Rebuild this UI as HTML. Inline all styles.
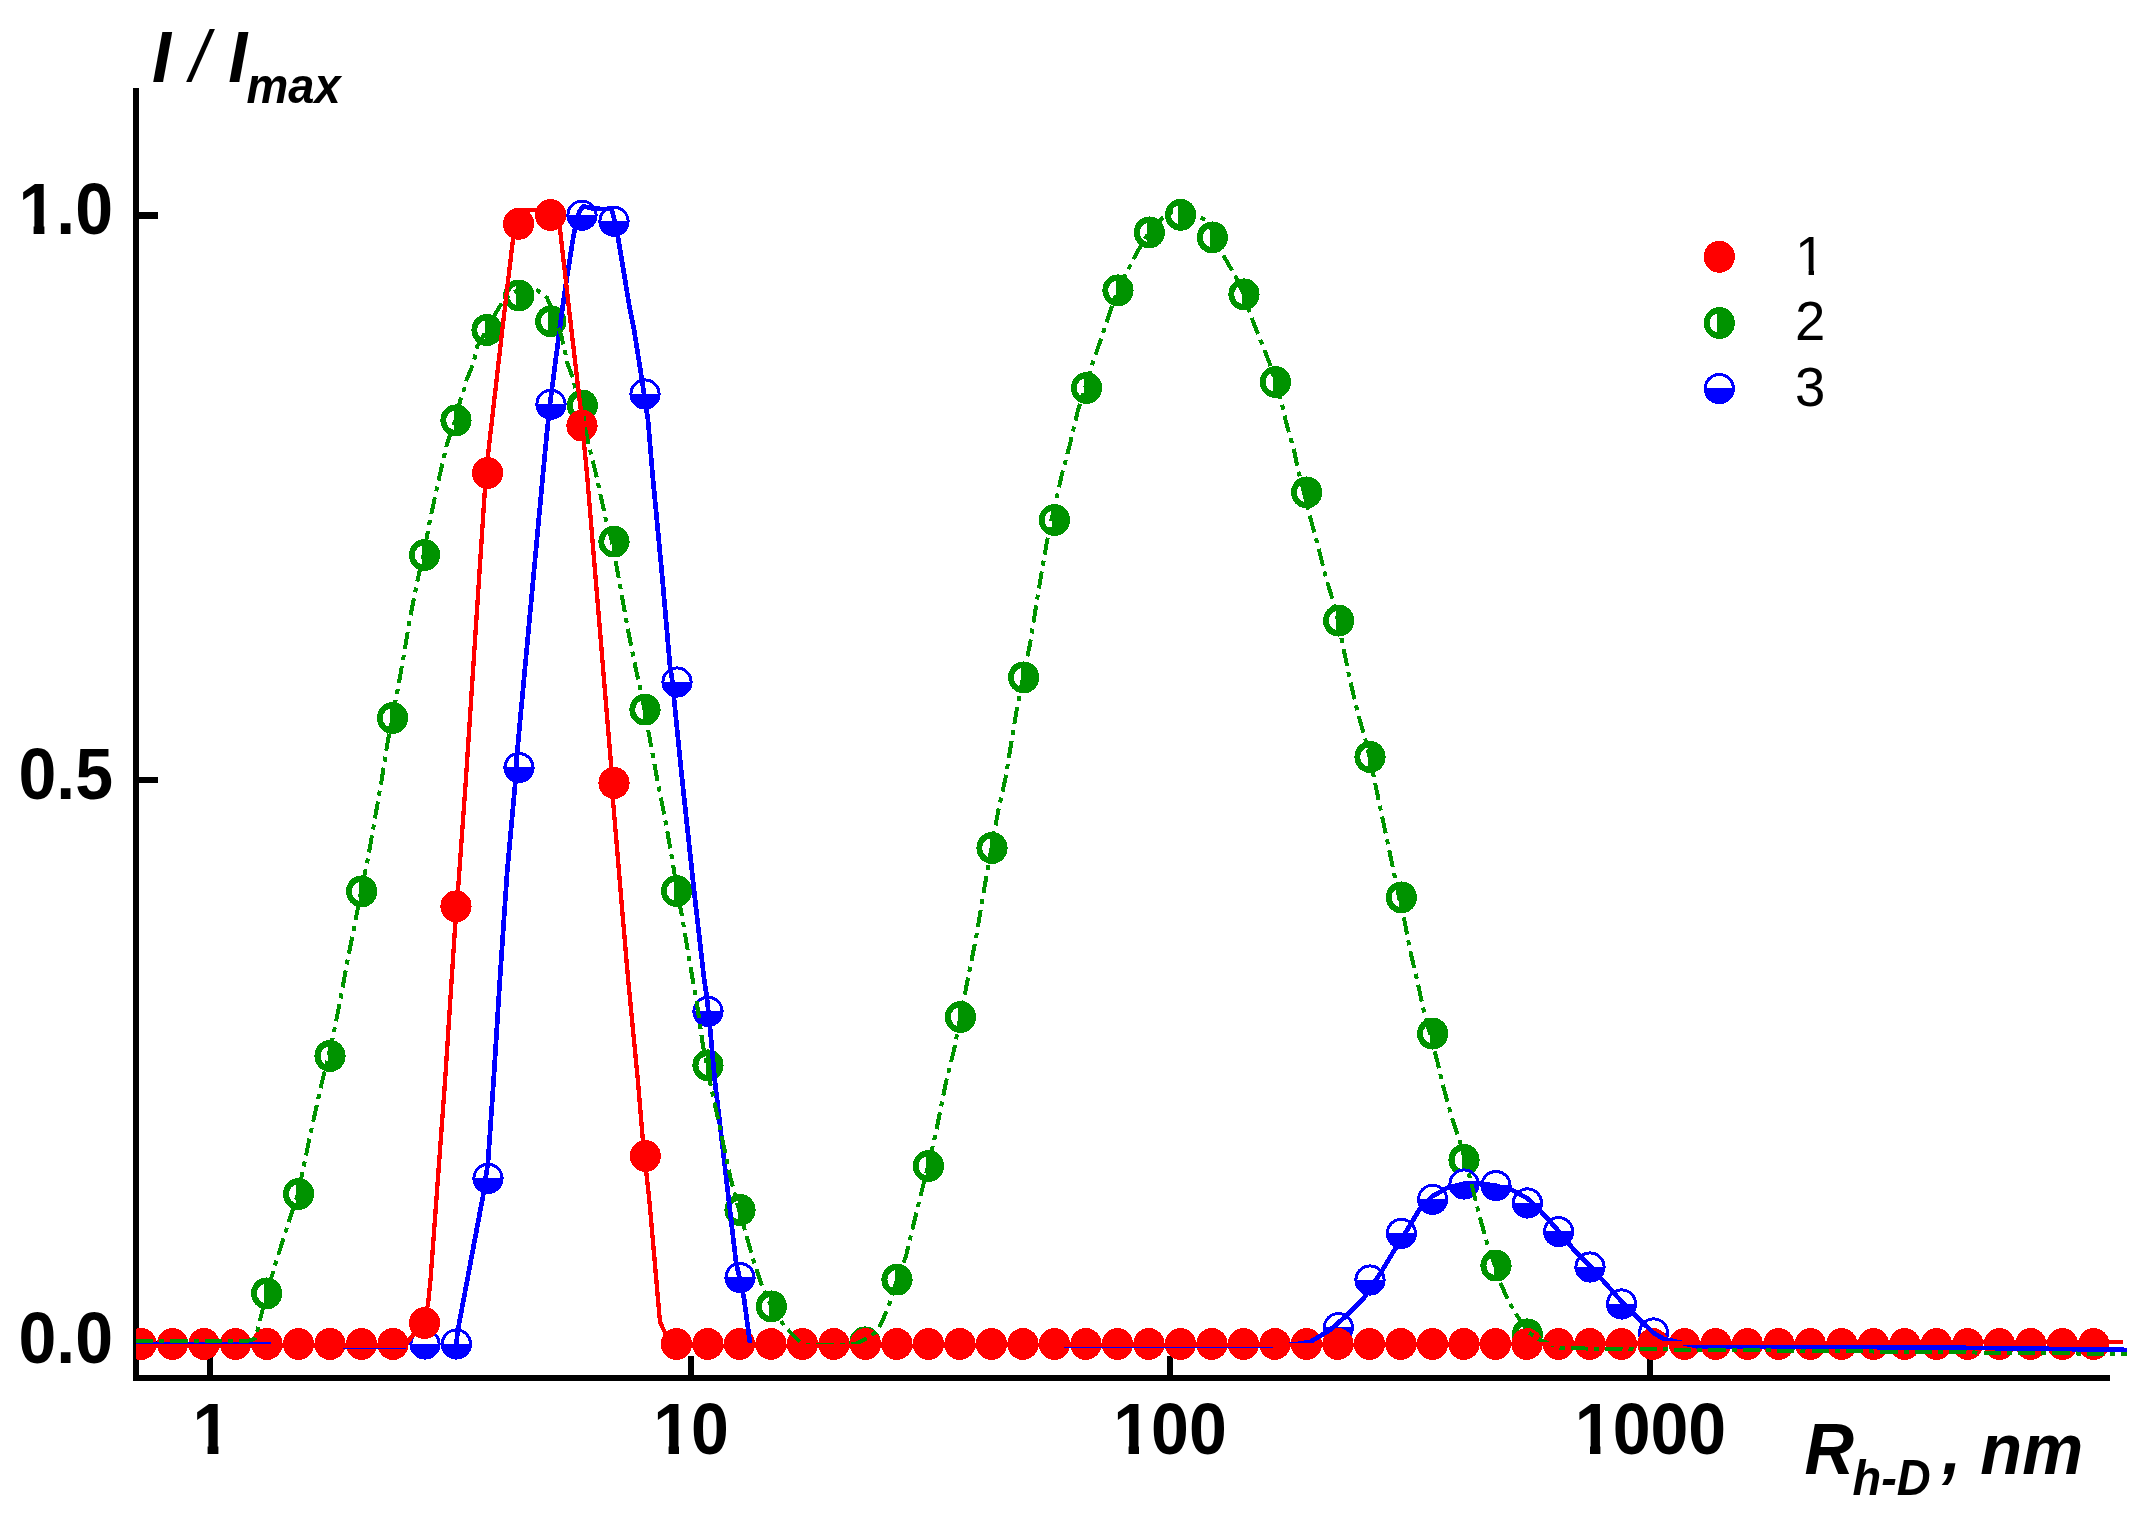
<!DOCTYPE html>
<html lang="en"><head><meta charset="utf-8"><title>DLS size distribution</title>
<style>
html,body{margin:0;padding:0;background:#fff;}
body{width:2150px;height:1522px;overflow:hidden;}
svg{display:block;}
text{font-family:"Liberation Sans",Arial,Helvetica,sans-serif;fill:#000;}
.b{font-weight:bold;font-size:68px;}
.bi{font-weight:bold;font-style:italic;font-size:68.5px;}
.sub{font-weight:bold;font-style:italic;font-size:47px;}
.lg{font-size:54.5px;}
</style></head><body>
<svg width="2150" height="1522" viewBox="0 0 2150 1522">
<rect width="2150" height="1522" fill="#fff"/>
<defs><clipPath id="frame"><rect x="136" y="0" width="2014" height="1400"/></clipPath></defs>

<g shape-rendering="crispEdges" fill="#000">
<rect x="133" y="88" width="6" height="1293"/>
<rect x="133" y="1375" width="1977" height="6"/>
<rect x="139" y="212.0" width="19" height="6.8"/>
<rect x="139" y="776.5" width="19" height="6.8"/>
<rect x="139" y="1341.0" width="19" height="6.8"/>
<rect x="207.0" y="1356" width="6" height="19"/>
<rect x="687.5" y="1356" width="6" height="19"/>
<rect x="1166.6" y="1356" width="6" height="19"/>
<rect x="1646.6" y="1356" width="6" height="19"/>
</g>
<g shape-rendering="crispEdges" clip-path="url(#frame)">
<g>
<ellipse cx="141.0" cy="1344.0" rx="15.6" ry="15.95" fill="#009300"/><path d="M138.5,1334.7 A9.7,9.7 0 0 0 138.5,1353.3 Z" fill="#fff"/>
<ellipse cx="172.5" cy="1344.0" rx="15.6" ry="15.95" fill="#009300"/><path d="M170.0,1334.7 A9.7,9.7 0 0 0 170.0,1353.3 Z" fill="#fff"/>
<ellipse cx="204.0" cy="1344.0" rx="15.6" ry="15.95" fill="#009300"/><path d="M201.5,1334.7 A9.7,9.7 0 0 0 201.5,1353.3 Z" fill="#fff"/>
<ellipse cx="235.5" cy="1344.0" rx="15.6" ry="15.95" fill="#009300"/><path d="M233.0,1334.7 A9.7,9.7 0 0 0 233.0,1353.3 Z" fill="#fff"/>
<ellipse cx="266.6" cy="1293.4" rx="15.6" ry="15.95" fill="#009300"/><path d="M264.1,1284.1 A9.7,9.7 0 0 0 264.1,1302.8 Z" fill="#fff"/>
<ellipse cx="298.6" cy="1194.0" rx="15.6" ry="15.95" fill="#009300"/><path d="M296.1,1184.7 A9.7,9.7 0 0 0 296.1,1203.3 Z" fill="#fff"/>
<ellipse cx="330.0" cy="1056.0" rx="15.6" ry="15.95" fill="#009300"/><path d="M327.5,1046.7 A9.7,9.7 0 0 0 327.5,1065.3 Z" fill="#fff"/>
<ellipse cx="361.6" cy="891.4" rx="15.6" ry="15.95" fill="#009300"/><path d="M359.1,882.0 A9.7,9.7 0 0 0 359.1,900.8 Z" fill="#fff"/>
<ellipse cx="392.6" cy="718.0" rx="15.6" ry="15.95" fill="#009300"/><path d="M390.1,708.6 A9.7,9.7 0 0 0 390.1,727.4 Z" fill="#fff"/>
<ellipse cx="424.6" cy="555.0" rx="15.6" ry="15.95" fill="#009300"/><path d="M422.1,545.6 A9.7,9.7 0 0 0 422.1,564.4 Z" fill="#fff"/>
<ellipse cx="456.0" cy="420.4" rx="15.6" ry="15.95" fill="#009300"/><path d="M453.5,411.0 A9.7,9.7 0 0 0 453.5,429.8 Z" fill="#fff"/>
<ellipse cx="487.0" cy="330.0" rx="15.6" ry="15.95" fill="#009300"/><path d="M484.5,320.6 A9.7,9.7 0 0 0 484.5,339.4 Z" fill="#fff"/>
<ellipse cx="518.8" cy="295.5" rx="15.6" ry="15.95" fill="#009300"/><path d="M516.3,286.1 A9.7,9.7 0 0 0 516.3,304.9 Z" fill="#fff"/>
<ellipse cx="550.8" cy="321.3" rx="15.6" ry="15.95" fill="#009300"/><path d="M548.3,311.9 A9.7,9.7 0 0 0 548.3,330.7 Z" fill="#fff"/>
<ellipse cx="582.4" cy="405.5" rx="15.6" ry="15.95" fill="#009300"/><path d="M579.9,396.1 A9.7,9.7 0 0 0 579.9,414.9 Z" fill="#fff"/>
<ellipse cx="614.0" cy="541.6" rx="15.6" ry="15.95" fill="#009300"/><path d="M611.5,532.2 A9.7,9.7 0 0 0 611.5,551.0 Z" fill="#fff"/>
<ellipse cx="645.0" cy="709.6" rx="15.6" ry="15.95" fill="#009300"/><path d="M642.5,700.2 A9.7,9.7 0 0 0 642.5,719.0 Z" fill="#fff"/>
<ellipse cx="676.6" cy="891.0" rx="15.6" ry="15.95" fill="#009300"/><path d="M674.1,881.6 A9.7,9.7 0 0 0 674.1,900.4 Z" fill="#fff"/>
<ellipse cx="708.0" cy="1065.4" rx="15.6" ry="15.95" fill="#009300"/><path d="M705.5,1056.1 A9.7,9.7 0 0 0 705.5,1074.8 Z" fill="#fff"/>
<ellipse cx="740.0" cy="1210.0" rx="15.6" ry="15.95" fill="#009300"/><path d="M737.5,1200.7 A9.7,9.7 0 0 0 737.5,1219.3 Z" fill="#fff"/>
<ellipse cx="771.4" cy="1306.4" rx="15.6" ry="15.95" fill="#009300"/><path d="M768.9,1297.1 A9.7,9.7 0 0 0 768.9,1315.8 Z" fill="#fff"/>
<ellipse cx="802.4" cy="1344.0" rx="15.6" ry="15.95" fill="#009300"/><path d="M799.9,1334.7 A9.7,9.7 0 0 0 799.9,1353.3 Z" fill="#fff"/>
<ellipse cx="833.9" cy="1344.0" rx="15.6" ry="15.95" fill="#009300"/><path d="M831.4,1334.7 A9.7,9.7 0 0 0 831.4,1353.3 Z" fill="#fff"/>
<ellipse cx="865.0" cy="1342.4" rx="15.6" ry="15.95" fill="#009300"/><path d="M862.5,1333.1 A9.7,9.7 0 0 0 862.5,1351.8 Z" fill="#fff"/>
<ellipse cx="897.0" cy="1279.6" rx="15.6" ry="15.95" fill="#009300"/><path d="M894.5,1270.2 A9.7,9.7 0 0 0 894.5,1288.9 Z" fill="#fff"/>
<ellipse cx="928.4" cy="1166.0" rx="15.6" ry="15.95" fill="#009300"/><path d="M925.9,1156.7 A9.7,9.7 0 0 0 925.9,1175.3 Z" fill="#fff"/>
<ellipse cx="960.4" cy="1017.0" rx="15.6" ry="15.95" fill="#009300"/><path d="M957.9,1007.6 A9.7,9.7 0 0 0 957.9,1026.3 Z" fill="#fff"/>
<ellipse cx="992.0" cy="848.0" rx="15.6" ry="15.95" fill="#009300"/><path d="M989.5,838.6 A9.7,9.7 0 0 0 989.5,857.4 Z" fill="#fff"/>
<ellipse cx="1023.6" cy="677.4" rx="15.6" ry="15.95" fill="#009300"/><path d="M1021.1,668.0 A9.7,9.7 0 0 0 1021.1,686.8 Z" fill="#fff"/>
<ellipse cx="1054.4" cy="520.0" rx="15.6" ry="15.95" fill="#009300"/><path d="M1051.9,510.6 A9.7,9.7 0 0 0 1051.9,529.4 Z" fill="#fff"/>
<ellipse cx="1086.6" cy="388.0" rx="15.6" ry="15.95" fill="#009300"/><path d="M1084.1,378.6 A9.7,9.7 0 0 0 1084.1,397.4 Z" fill="#fff"/>
<ellipse cx="1118.0" cy="290.4" rx="15.6" ry="15.95" fill="#009300"/><path d="M1115.5,281.0 A9.7,9.7 0 0 0 1115.5,299.8 Z" fill="#fff"/>
<ellipse cx="1149.4" cy="232.4" rx="15.6" ry="15.95" fill="#009300"/><path d="M1146.9,223.1 A9.7,9.7 0 0 0 1146.9,241.8 Z" fill="#fff"/>
<ellipse cx="1180.6" cy="214.8" rx="15.6" ry="15.95" fill="#009300"/><path d="M1178.1,205.5 A9.7,9.7 0 0 0 1178.1,224.2 Z" fill="#fff"/>
<ellipse cx="1212.4" cy="237.4" rx="15.6" ry="15.95" fill="#009300"/><path d="M1209.9,228.1 A9.7,9.7 0 0 0 1209.9,246.8 Z" fill="#fff"/>
<ellipse cx="1244.0" cy="294.4" rx="15.6" ry="15.95" fill="#009300"/><path d="M1241.5,285.0 A9.7,9.7 0 0 0 1241.5,303.8 Z" fill="#fff"/>
<ellipse cx="1275.4" cy="382.0" rx="15.6" ry="15.95" fill="#009300"/><path d="M1272.9,372.6 A9.7,9.7 0 0 0 1272.9,391.4 Z" fill="#fff"/>
<ellipse cx="1306.6" cy="492.4" rx="15.6" ry="15.95" fill="#009300"/><path d="M1304.1,483.0 A9.7,9.7 0 0 0 1304.1,501.8 Z" fill="#fff"/>
<ellipse cx="1338.6" cy="620.6" rx="15.6" ry="15.95" fill="#009300"/><path d="M1336.1,611.2 A9.7,9.7 0 0 0 1336.1,630.0 Z" fill="#fff"/>
<ellipse cx="1370.0" cy="757.0" rx="15.6" ry="15.95" fill="#009300"/><path d="M1367.5,747.6 A9.7,9.7 0 0 0 1367.5,766.4 Z" fill="#fff"/>
<ellipse cx="1401.4" cy="897.4" rx="15.6" ry="15.95" fill="#009300"/><path d="M1398.9,888.0 A9.7,9.7 0 0 0 1398.9,906.8 Z" fill="#fff"/>
<ellipse cx="1432.6" cy="1033.6" rx="15.6" ry="15.95" fill="#009300"/><path d="M1430.1,1024.2 A9.7,9.7 0 0 0 1430.1,1042.9 Z" fill="#fff"/>
<ellipse cx="1464.0" cy="1160.0" rx="15.6" ry="15.95" fill="#009300"/><path d="M1461.5,1150.7 A9.7,9.7 0 0 0 1461.5,1169.3 Z" fill="#fff"/>
<ellipse cx="1496.0" cy="1265.6" rx="15.6" ry="15.95" fill="#009300"/><path d="M1493.5,1256.2 A9.7,9.7 0 0 0 1493.5,1274.9 Z" fill="#fff"/>
<ellipse cx="1527.4" cy="1334.4" rx="15.6" ry="15.95" fill="#009300"/><path d="M1524.9,1325.1 A9.7,9.7 0 0 0 1524.9,1343.8 Z" fill="#fff"/>
<ellipse cx="1558.4" cy="1344.0" rx="15.6" ry="15.95" fill="#009300"/><path d="M1555.9,1334.7 A9.7,9.7 0 0 0 1555.9,1353.3 Z" fill="#fff"/>
<ellipse cx="1589.9" cy="1344.0" rx="15.6" ry="15.95" fill="#009300"/><path d="M1587.4,1334.7 A9.7,9.7 0 0 0 1587.4,1353.3 Z" fill="#fff"/>
<ellipse cx="1621.4" cy="1344.0" rx="15.6" ry="15.95" fill="#009300"/><path d="M1618.9,1334.7 A9.7,9.7 0 0 0 1618.9,1353.3 Z" fill="#fff"/>
<ellipse cx="1652.9" cy="1344.0" rx="15.6" ry="15.95" fill="#009300"/><path d="M1650.4,1334.7 A9.7,9.7 0 0 0 1650.4,1353.3 Z" fill="#fff"/>
<ellipse cx="1684.4" cy="1344.0" rx="15.6" ry="15.95" fill="#009300"/><path d="M1681.9,1334.7 A9.7,9.7 0 0 0 1681.9,1353.3 Z" fill="#fff"/>
<ellipse cx="1715.8" cy="1344.0" rx="15.6" ry="15.95" fill="#009300"/><path d="M1713.3,1334.7 A9.7,9.7 0 0 0 1713.3,1353.3 Z" fill="#fff"/>
<ellipse cx="1747.3" cy="1344.0" rx="15.6" ry="15.95" fill="#009300"/><path d="M1744.8,1334.7 A9.7,9.7 0 0 0 1744.8,1353.3 Z" fill="#fff"/>
<ellipse cx="1778.8" cy="1344.0" rx="15.6" ry="15.95" fill="#009300"/><path d="M1776.3,1334.7 A9.7,9.7 0 0 0 1776.3,1353.3 Z" fill="#fff"/>
<ellipse cx="1810.3" cy="1344.0" rx="15.6" ry="15.95" fill="#009300"/><path d="M1807.8,1334.7 A9.7,9.7 0 0 0 1807.8,1353.3 Z" fill="#fff"/>
<ellipse cx="1841.8" cy="1344.0" rx="15.6" ry="15.95" fill="#009300"/><path d="M1839.3,1334.7 A9.7,9.7 0 0 0 1839.3,1353.3 Z" fill="#fff"/>
<ellipse cx="1873.3" cy="1344.0" rx="15.6" ry="15.95" fill="#009300"/><path d="M1870.8,1334.7 A9.7,9.7 0 0 0 1870.8,1353.3 Z" fill="#fff"/>
<ellipse cx="1904.8" cy="1344.0" rx="15.6" ry="15.95" fill="#009300"/><path d="M1902.3,1334.7 A9.7,9.7 0 0 0 1902.3,1353.3 Z" fill="#fff"/>
<ellipse cx="1936.3" cy="1344.0" rx="15.6" ry="15.95" fill="#009300"/><path d="M1933.8,1334.7 A9.7,9.7 0 0 0 1933.8,1353.3 Z" fill="#fff"/>
<ellipse cx="1967.8" cy="1344.0" rx="15.6" ry="15.95" fill="#009300"/><path d="M1965.3,1334.7 A9.7,9.7 0 0 0 1965.3,1353.3 Z" fill="#fff"/>
<ellipse cx="1999.3" cy="1344.0" rx="15.6" ry="15.95" fill="#009300"/><path d="M1996.8,1334.7 A9.7,9.7 0 0 0 1996.8,1353.3 Z" fill="#fff"/>
<ellipse cx="2030.8" cy="1344.0" rx="15.6" ry="15.95" fill="#009300"/><path d="M2028.3,1334.7 A9.7,9.7 0 0 0 2028.3,1353.3 Z" fill="#fff"/>
<ellipse cx="2062.3" cy="1344.0" rx="15.6" ry="15.95" fill="#009300"/><path d="M2059.8,1334.7 A9.7,9.7 0 0 0 2059.8,1353.3 Z" fill="#fff"/>
<ellipse cx="2093.8" cy="1344.0" rx="15.6" ry="15.95" fill="#009300"/><path d="M2091.3,1334.7 A9.7,9.7 0 0 0 2091.3,1353.3 Z" fill="#fff"/>
</g><g>
<circle cx="141.0" cy="1344.0" r="14.1" fill="#fff" stroke="#0000ff" stroke-width="3"/><path d="M126.4,1343.6 A14.6,14.6 0 0 0 155.6,1343.6 Z" fill="#0000ff"/>
<circle cx="172.5" cy="1344.0" r="14.1" fill="#fff" stroke="#0000ff" stroke-width="3"/><path d="M157.9,1343.6 A14.6,14.6 0 0 0 187.1,1343.6 Z" fill="#0000ff"/>
<circle cx="204.0" cy="1344.0" r="14.1" fill="#fff" stroke="#0000ff" stroke-width="3"/><path d="M189.4,1343.6 A14.6,14.6 0 0 0 218.6,1343.6 Z" fill="#0000ff"/>
<circle cx="235.5" cy="1344.0" r="14.1" fill="#fff" stroke="#0000ff" stroke-width="3"/><path d="M220.9,1343.6 A14.6,14.6 0 0 0 250.1,1343.6 Z" fill="#0000ff"/>
<circle cx="267.0" cy="1344.0" r="14.1" fill="#fff" stroke="#0000ff" stroke-width="3"/><path d="M252.4,1343.6 A14.6,14.6 0 0 0 281.6,1343.6 Z" fill="#0000ff"/>
<circle cx="298.5" cy="1344.0" r="14.1" fill="#fff" stroke="#0000ff" stroke-width="3"/><path d="M283.9,1343.6 A14.6,14.6 0 0 0 313.1,1343.6 Z" fill="#0000ff"/>
<circle cx="330.0" cy="1344.0" r="14.1" fill="#fff" stroke="#0000ff" stroke-width="3"/><path d="M315.4,1343.6 A14.6,14.6 0 0 0 344.6,1343.6 Z" fill="#0000ff"/>
<circle cx="361.5" cy="1344.0" r="14.1" fill="#fff" stroke="#0000ff" stroke-width="3"/><path d="M346.9,1343.6 A14.6,14.6 0 0 0 376.1,1343.6 Z" fill="#0000ff"/>
<circle cx="393.0" cy="1344.0" r="14.1" fill="#fff" stroke="#0000ff" stroke-width="3"/><path d="M378.4,1343.6 A14.6,14.6 0 0 0 407.6,1343.6 Z" fill="#0000ff"/>
<circle cx="425.0" cy="1344.0" r="14.1" fill="#fff" stroke="#0000ff" stroke-width="3"/><path d="M410.4,1343.6 A14.6,14.6 0 0 0 439.6,1343.6 Z" fill="#0000ff"/>
<circle cx="456.4" cy="1344.0" r="14.1" fill="#fff" stroke="#0000ff" stroke-width="3"/><path d="M441.8,1343.6 A14.6,14.6 0 0 0 471.0,1343.6 Z" fill="#0000ff"/>
<circle cx="488.0" cy="1178.4" r="14.1" fill="#fff" stroke="#0000ff" stroke-width="3"/><path d="M473.4,1178.0 A14.6,14.6 0 0 0 502.6,1178.0 Z" fill="#0000ff"/>
<circle cx="519.0" cy="767.6" r="14.1" fill="#fff" stroke="#0000ff" stroke-width="3"/><path d="M504.4,767.2 A14.6,14.6 0 0 0 533.6,767.2 Z" fill="#0000ff"/>
<circle cx="551.0" cy="404.3" r="14.1" fill="#fff" stroke="#0000ff" stroke-width="3"/><path d="M536.4,403.9 A14.6,14.6 0 0 0 565.6,403.9 Z" fill="#0000ff"/>
<circle cx="582.0" cy="215.2" r="14.1" fill="#fff" stroke="#0000ff" stroke-width="3"/><path d="M567.4,214.8 A14.6,14.6 0 0 0 596.6,214.8 Z" fill="#0000ff"/>
<circle cx="614.0" cy="221.3" r="14.1" fill="#fff" stroke="#0000ff" stroke-width="3"/><path d="M599.4,220.9 A14.6,14.6 0 0 0 628.6,220.9 Z" fill="#0000ff"/>
<circle cx="645.0" cy="394.0" r="14.1" fill="#fff" stroke="#0000ff" stroke-width="3"/><path d="M630.4,393.6 A14.6,14.6 0 0 0 659.6,393.6 Z" fill="#0000ff"/>
<circle cx="677.0" cy="682.0" r="14.1" fill="#fff" stroke="#0000ff" stroke-width="3"/><path d="M662.4,681.6 A14.6,14.6 0 0 0 691.6,681.6 Z" fill="#0000ff"/>
<circle cx="708.0" cy="1011.4" r="14.1" fill="#fff" stroke="#0000ff" stroke-width="3"/><path d="M693.4,1011.0 A14.6,14.6 0 0 0 722.6,1011.0 Z" fill="#0000ff"/>
<circle cx="740.0" cy="1277.6" r="14.1" fill="#fff" stroke="#0000ff" stroke-width="3"/><path d="M725.4,1277.2 A14.6,14.6 0 0 0 754.6,1277.2 Z" fill="#0000ff"/>
<circle cx="770.9" cy="1344.0" r="14.1" fill="#fff" stroke="#0000ff" stroke-width="3"/><path d="M756.3,1343.6 A14.6,14.6 0 0 0 785.5,1343.6 Z" fill="#0000ff"/>
<circle cx="802.4" cy="1344.0" r="14.1" fill="#fff" stroke="#0000ff" stroke-width="3"/><path d="M787.8,1343.6 A14.6,14.6 0 0 0 817.0,1343.6 Z" fill="#0000ff"/>
<circle cx="833.9" cy="1344.0" r="14.1" fill="#fff" stroke="#0000ff" stroke-width="3"/><path d="M819.3,1343.6 A14.6,14.6 0 0 0 848.5,1343.6 Z" fill="#0000ff"/>
<circle cx="865.4" cy="1344.0" r="14.1" fill="#fff" stroke="#0000ff" stroke-width="3"/><path d="M850.8,1343.6 A14.6,14.6 0 0 0 880.0,1343.6 Z" fill="#0000ff"/>
<circle cx="896.9" cy="1344.0" r="14.1" fill="#fff" stroke="#0000ff" stroke-width="3"/><path d="M882.3,1343.6 A14.6,14.6 0 0 0 911.5,1343.6 Z" fill="#0000ff"/>
<circle cx="928.4" cy="1344.0" r="14.1" fill="#fff" stroke="#0000ff" stroke-width="3"/><path d="M913.8,1343.6 A14.6,14.6 0 0 0 943.0,1343.6 Z" fill="#0000ff"/>
<circle cx="959.9" cy="1344.0" r="14.1" fill="#fff" stroke="#0000ff" stroke-width="3"/><path d="M945.3,1343.6 A14.6,14.6 0 0 0 974.5,1343.6 Z" fill="#0000ff"/>
<circle cx="991.4" cy="1344.0" r="14.1" fill="#fff" stroke="#0000ff" stroke-width="3"/><path d="M976.8,1343.6 A14.6,14.6 0 0 0 1006.0,1343.6 Z" fill="#0000ff"/>
<circle cx="1022.9" cy="1344.0" r="14.1" fill="#fff" stroke="#0000ff" stroke-width="3"/><path d="M1008.3,1343.6 A14.6,14.6 0 0 0 1037.5,1343.6 Z" fill="#0000ff"/>
<circle cx="1054.4" cy="1344.0" r="14.1" fill="#fff" stroke="#0000ff" stroke-width="3"/><path d="M1039.8,1343.6 A14.6,14.6 0 0 0 1069.0,1343.6 Z" fill="#0000ff"/>
<circle cx="1085.9" cy="1344.0" r="14.1" fill="#fff" stroke="#0000ff" stroke-width="3"/><path d="M1071.3,1343.6 A14.6,14.6 0 0 0 1100.5,1343.6 Z" fill="#0000ff"/>
<circle cx="1117.4" cy="1344.0" r="14.1" fill="#fff" stroke="#0000ff" stroke-width="3"/><path d="M1102.8,1343.6 A14.6,14.6 0 0 0 1132.0,1343.6 Z" fill="#0000ff"/>
<circle cx="1148.9" cy="1344.0" r="14.1" fill="#fff" stroke="#0000ff" stroke-width="3"/><path d="M1134.3,1343.6 A14.6,14.6 0 0 0 1163.5,1343.6 Z" fill="#0000ff"/>
<circle cx="1180.4" cy="1344.0" r="14.1" fill="#fff" stroke="#0000ff" stroke-width="3"/><path d="M1165.8,1343.6 A14.6,14.6 0 0 0 1195.0,1343.6 Z" fill="#0000ff"/>
<circle cx="1211.9" cy="1344.0" r="14.1" fill="#fff" stroke="#0000ff" stroke-width="3"/><path d="M1197.3,1343.6 A14.6,14.6 0 0 0 1226.5,1343.6 Z" fill="#0000ff"/>
<circle cx="1243.4" cy="1344.0" r="14.1" fill="#fff" stroke="#0000ff" stroke-width="3"/><path d="M1228.8,1343.6 A14.6,14.6 0 0 0 1258.0,1343.6 Z" fill="#0000ff"/>
<circle cx="1274.9" cy="1344.0" r="14.1" fill="#fff" stroke="#0000ff" stroke-width="3"/><path d="M1260.3,1343.6 A14.6,14.6 0 0 0 1289.5,1343.6 Z" fill="#0000ff"/>
<circle cx="1306.4" cy="1344.0" r="14.1" fill="#fff" stroke="#0000ff" stroke-width="3"/><path d="M1291.8,1343.6 A14.6,14.6 0 0 0 1321.0,1343.6 Z" fill="#0000ff"/>
<circle cx="1338.4" cy="1327.6" r="14.1" fill="#fff" stroke="#0000ff" stroke-width="3"/><path d="M1323.8,1327.2 A14.6,14.6 0 0 0 1353.0,1327.2 Z" fill="#0000ff"/>
<circle cx="1370.0" cy="1280.0" r="14.1" fill="#fff" stroke="#0000ff" stroke-width="3"/><path d="M1355.4,1279.6 A14.6,14.6 0 0 0 1384.6,1279.6 Z" fill="#0000ff"/>
<circle cx="1401.4" cy="1233.4" r="14.1" fill="#fff" stroke="#0000ff" stroke-width="3"/><path d="M1386.8,1233.0 A14.6,14.6 0 0 0 1416.0,1233.0 Z" fill="#0000ff"/>
<circle cx="1432.6" cy="1199.4" r="14.1" fill="#fff" stroke="#0000ff" stroke-width="3"/><path d="M1418.0,1199.0 A14.6,14.6 0 0 0 1447.2,1199.0 Z" fill="#0000ff"/>
<circle cx="1464.0" cy="1184.0" r="14.1" fill="#fff" stroke="#0000ff" stroke-width="3"/><path d="M1449.4,1183.6 A14.6,14.6 0 0 0 1478.6,1183.6 Z" fill="#0000ff"/>
<circle cx="1496.0" cy="1185.6" r="14.1" fill="#fff" stroke="#0000ff" stroke-width="3"/><path d="M1481.4,1185.2 A14.6,14.6 0 0 0 1510.6,1185.2 Z" fill="#0000ff"/>
<circle cx="1527.4" cy="1203.0" r="14.1" fill="#fff" stroke="#0000ff" stroke-width="3"/><path d="M1512.8,1202.6 A14.6,14.6 0 0 0 1542.0,1202.6 Z" fill="#0000ff"/>
<circle cx="1558.6" cy="1231.6" r="14.1" fill="#fff" stroke="#0000ff" stroke-width="3"/><path d="M1544.0,1231.2 A14.6,14.6 0 0 0 1573.2,1231.2 Z" fill="#0000ff"/>
<circle cx="1590.0" cy="1267.0" r="14.1" fill="#fff" stroke="#0000ff" stroke-width="3"/><path d="M1575.4,1266.6 A14.6,14.6 0 0 0 1604.6,1266.6 Z" fill="#0000ff"/>
<circle cx="1621.6" cy="1304.0" r="14.1" fill="#fff" stroke="#0000ff" stroke-width="3"/><path d="M1607.0,1303.6 A14.6,14.6 0 0 0 1636.2,1303.6 Z" fill="#0000ff"/>
<circle cx="1653.6" cy="1333.0" r="14.1" fill="#fff" stroke="#0000ff" stroke-width="3"/><path d="M1639.0,1332.6 A14.6,14.6 0 0 0 1668.2,1332.6 Z" fill="#0000ff"/>
<circle cx="1684.4" cy="1344.0" r="14.1" fill="#fff" stroke="#0000ff" stroke-width="3"/><path d="M1669.8,1343.6 A14.6,14.6 0 0 0 1699.0,1343.6 Z" fill="#0000ff"/>
<circle cx="1715.8" cy="1344.0" r="14.1" fill="#fff" stroke="#0000ff" stroke-width="3"/><path d="M1701.2,1343.6 A14.6,14.6 0 0 0 1730.4,1343.6 Z" fill="#0000ff"/>
<circle cx="1747.3" cy="1344.0" r="14.1" fill="#fff" stroke="#0000ff" stroke-width="3"/><path d="M1732.7,1343.6 A14.6,14.6 0 0 0 1761.9,1343.6 Z" fill="#0000ff"/>
<circle cx="1778.8" cy="1344.0" r="14.1" fill="#fff" stroke="#0000ff" stroke-width="3"/><path d="M1764.2,1343.6 A14.6,14.6 0 0 0 1793.4,1343.6 Z" fill="#0000ff"/>
<circle cx="1810.3" cy="1344.0" r="14.1" fill="#fff" stroke="#0000ff" stroke-width="3"/><path d="M1795.7,1343.6 A14.6,14.6 0 0 0 1824.9,1343.6 Z" fill="#0000ff"/>
<circle cx="1841.8" cy="1344.0" r="14.1" fill="#fff" stroke="#0000ff" stroke-width="3"/><path d="M1827.2,1343.6 A14.6,14.6 0 0 0 1856.4,1343.6 Z" fill="#0000ff"/>
<circle cx="1873.3" cy="1344.0" r="14.1" fill="#fff" stroke="#0000ff" stroke-width="3"/><path d="M1858.7,1343.6 A14.6,14.6 0 0 0 1887.9,1343.6 Z" fill="#0000ff"/>
<circle cx="1904.8" cy="1344.0" r="14.1" fill="#fff" stroke="#0000ff" stroke-width="3"/><path d="M1890.2,1343.6 A14.6,14.6 0 0 0 1919.4,1343.6 Z" fill="#0000ff"/>
<circle cx="1936.3" cy="1344.0" r="14.1" fill="#fff" stroke="#0000ff" stroke-width="3"/><path d="M1921.7,1343.6 A14.6,14.6 0 0 0 1950.9,1343.6 Z" fill="#0000ff"/>
<circle cx="1967.8" cy="1344.0" r="14.1" fill="#fff" stroke="#0000ff" stroke-width="3"/><path d="M1953.2,1343.6 A14.6,14.6 0 0 0 1982.4,1343.6 Z" fill="#0000ff"/>
<circle cx="1999.3" cy="1344.0" r="14.1" fill="#fff" stroke="#0000ff" stroke-width="3"/><path d="M1984.7,1343.6 A14.6,14.6 0 0 0 2013.9,1343.6 Z" fill="#0000ff"/>
<circle cx="2030.8" cy="1344.0" r="14.1" fill="#fff" stroke="#0000ff" stroke-width="3"/><path d="M2016.2,1343.6 A14.6,14.6 0 0 0 2045.4,1343.6 Z" fill="#0000ff"/>
<circle cx="2062.3" cy="1344.0" r="14.1" fill="#fff" stroke="#0000ff" stroke-width="3"/><path d="M2047.7,1343.6 A14.6,14.6 0 0 0 2076.9,1343.6 Z" fill="#0000ff"/>
<circle cx="2093.8" cy="1344.0" r="14.1" fill="#fff" stroke="#0000ff" stroke-width="3"/><path d="M2079.2,1343.6 A14.6,14.6 0 0 0 2108.4,1343.6 Z" fill="#0000ff"/>
</g><g>
<ellipse cx="141.0" cy="1344.0" rx="15.6" ry="15.95" fill="#ff0000"/>
<ellipse cx="172.5" cy="1344.0" rx="15.6" ry="15.95" fill="#ff0000"/>
<ellipse cx="204.0" cy="1344.0" rx="15.6" ry="15.95" fill="#ff0000"/>
<ellipse cx="235.5" cy="1344.0" rx="15.6" ry="15.95" fill="#ff0000"/>
<ellipse cx="267.0" cy="1344.0" rx="15.6" ry="15.95" fill="#ff0000"/>
<ellipse cx="298.5" cy="1344.0" rx="15.6" ry="15.95" fill="#ff0000"/>
<ellipse cx="330.0" cy="1344.0" rx="15.6" ry="15.95" fill="#ff0000"/>
<ellipse cx="361.5" cy="1344.0" rx="15.6" ry="15.95" fill="#ff0000"/>
<ellipse cx="393.0" cy="1344.0" rx="15.6" ry="15.95" fill="#ff0000"/>
<ellipse cx="424.6" cy="1323.0" rx="15.6" ry="15.95" fill="#ff0000"/>
<ellipse cx="456.0" cy="906.4" rx="15.6" ry="15.95" fill="#ff0000"/>
<ellipse cx="487.6" cy="473.0" rx="15.6" ry="15.95" fill="#ff0000"/>
<ellipse cx="518.6" cy="223.8" rx="15.6" ry="15.95" fill="#ff0000"/>
<ellipse cx="550.7" cy="215.0" rx="15.6" ry="15.95" fill="#ff0000"/>
<ellipse cx="582.0" cy="425.6" rx="15.6" ry="15.95" fill="#ff0000"/>
<ellipse cx="614.0" cy="783.0" rx="15.6" ry="15.95" fill="#ff0000"/>
<ellipse cx="645.3" cy="1156.0" rx="15.6" ry="15.95" fill="#ff0000"/>
<ellipse cx="676.4" cy="1344.0" rx="15.6" ry="15.95" fill="#ff0000"/>
<ellipse cx="707.9" cy="1344.0" rx="15.6" ry="15.95" fill="#ff0000"/>
<ellipse cx="739.4" cy="1344.0" rx="15.6" ry="15.95" fill="#ff0000"/>
<ellipse cx="770.9" cy="1344.0" rx="15.6" ry="15.95" fill="#ff0000"/>
<ellipse cx="802.4" cy="1344.0" rx="15.6" ry="15.95" fill="#ff0000"/>
<ellipse cx="833.9" cy="1344.0" rx="15.6" ry="15.95" fill="#ff0000"/>
<ellipse cx="865.4" cy="1344.0" rx="15.6" ry="15.95" fill="#ff0000"/>
<ellipse cx="896.9" cy="1344.0" rx="15.6" ry="15.95" fill="#ff0000"/>
<ellipse cx="928.4" cy="1344.0" rx="15.6" ry="15.95" fill="#ff0000"/>
<ellipse cx="959.9" cy="1344.0" rx="15.6" ry="15.95" fill="#ff0000"/>
<ellipse cx="991.4" cy="1344.0" rx="15.6" ry="15.95" fill="#ff0000"/>
<ellipse cx="1022.9" cy="1344.0" rx="15.6" ry="15.95" fill="#ff0000"/>
<ellipse cx="1054.4" cy="1344.0" rx="15.6" ry="15.95" fill="#ff0000"/>
<ellipse cx="1085.9" cy="1344.0" rx="15.6" ry="15.95" fill="#ff0000"/>
<ellipse cx="1117.4" cy="1344.0" rx="15.6" ry="15.95" fill="#ff0000"/>
<ellipse cx="1148.9" cy="1344.0" rx="15.6" ry="15.95" fill="#ff0000"/>
<ellipse cx="1180.4" cy="1344.0" rx="15.6" ry="15.95" fill="#ff0000"/>
<ellipse cx="1211.9" cy="1344.0" rx="15.6" ry="15.95" fill="#ff0000"/>
<ellipse cx="1243.4" cy="1344.0" rx="15.6" ry="15.95" fill="#ff0000"/>
<ellipse cx="1274.9" cy="1344.0" rx="15.6" ry="15.95" fill="#ff0000"/>
<ellipse cx="1306.4" cy="1344.0" rx="15.6" ry="15.95" fill="#ff0000"/>
<ellipse cx="1337.9" cy="1344.0" rx="15.6" ry="15.95" fill="#ff0000"/>
<ellipse cx="1369.4" cy="1344.0" rx="15.6" ry="15.95" fill="#ff0000"/>
<ellipse cx="1400.9" cy="1344.0" rx="15.6" ry="15.95" fill="#ff0000"/>
<ellipse cx="1432.4" cy="1344.0" rx="15.6" ry="15.95" fill="#ff0000"/>
<ellipse cx="1463.9" cy="1344.0" rx="15.6" ry="15.95" fill="#ff0000"/>
<ellipse cx="1495.4" cy="1344.0" rx="15.6" ry="15.95" fill="#ff0000"/>
<ellipse cx="1526.9" cy="1344.0" rx="15.6" ry="15.95" fill="#ff0000"/>
<ellipse cx="1558.4" cy="1344.0" rx="15.6" ry="15.95" fill="#ff0000"/>
<ellipse cx="1589.9" cy="1344.0" rx="15.6" ry="15.95" fill="#ff0000"/>
<ellipse cx="1621.4" cy="1344.0" rx="15.6" ry="15.95" fill="#ff0000"/>
<ellipse cx="1652.9" cy="1344.0" rx="15.6" ry="15.95" fill="#ff0000"/>
<ellipse cx="1684.4" cy="1344.0" rx="15.6" ry="15.95" fill="#ff0000"/>
<ellipse cx="1715.8" cy="1344.0" rx="15.6" ry="15.95" fill="#ff0000"/>
<ellipse cx="1747.3" cy="1344.0" rx="15.6" ry="15.95" fill="#ff0000"/>
<ellipse cx="1778.8" cy="1344.0" rx="15.6" ry="15.95" fill="#ff0000"/>
<ellipse cx="1810.3" cy="1344.0" rx="15.6" ry="15.95" fill="#ff0000"/>
<ellipse cx="1841.8" cy="1344.0" rx="15.6" ry="15.95" fill="#ff0000"/>
<ellipse cx="1873.3" cy="1344.0" rx="15.6" ry="15.95" fill="#ff0000"/>
<ellipse cx="1904.8" cy="1344.0" rx="15.6" ry="15.95" fill="#ff0000"/>
<ellipse cx="1936.3" cy="1344.0" rx="15.6" ry="15.95" fill="#ff0000"/>
<ellipse cx="1967.8" cy="1344.0" rx="15.6" ry="15.95" fill="#ff0000"/>
<ellipse cx="1999.3" cy="1344.0" rx="15.6" ry="15.95" fill="#ff0000"/>
<ellipse cx="2030.8" cy="1344.0" rx="15.6" ry="15.95" fill="#ff0000"/>
<ellipse cx="2062.3" cy="1344.0" rx="15.6" ry="15.95" fill="#ff0000"/>
<ellipse cx="2093.8" cy="1344.0" rx="15.6" ry="15.95" fill="#ff0000"/>
</g>
<rect x="136" y="1342" width="135" height="2" fill="#0000ff"/>
<polyline points="456.4,1344.0 457.5,1332.0 483.0,1196.0 488.0,1162.0 493.5,1082.0 500.0,978.0 507.0,874.0 515.0,786.0 517.0,754.0 543.0,474.0 546.5,437.0 550.0,404.0 559.8,328.0 565.0,290.0 573.6,235.2 577.5,217.0 580.0,210.5 583.5,206.1 590.4,208.1 603.2,209.1 611.1,208.6 613.1,214.5 618.0,237.2 630.0,310.0 633.8,328.0 642.0,380.0 648.0,420.0 652.5,474.0 662.0,574.0 670.0,666.0 672.5,682.0 674.0,698.0 682.0,778.0 694.0,890.0 704.0,978.0 707.0,998.0 711.0,1038.0 715.0,1082.0 726.0,1176.0 736.0,1262.0 744.0,1298.0 750.0,1343.0" fill="none" stroke="#0000ff" stroke-width="4.7" stroke-linejoin="round"/>
<polyline points="1288.0,1345.0 1300.0,1343.6 1310.0,1342.0 1330.0,1330.0 1346.0,1316.0 1364.0,1298.0 1380.0,1274.0 1392.0,1254.0 1408.0,1228.5 1420.0,1208.5 1432.0,1196.5 1448.0,1187.5 1464.0,1183.7 1480.0,1183.3 1496.0,1185.8 1512.0,1190.0 1528.0,1198.7 1540.0,1210.5 1558.6,1231.0 1574.0,1250.0 1590.0,1266.0 1606.0,1284.0 1622.0,1302.0 1638.0,1318.0 1653.6,1333.0 1664.0,1339.0 1680.0,1342.5 1700.0,1346.9 1750.0,1346.9 1900.0,1347.2 2000.0,1348.2 2127.0,1349.9" fill="none" stroke="#0000ff" stroke-width="4.7" stroke-linejoin="round"/>
<polyline points="136.0,1341.0 240.0,1341.0 251.0,1340.4 255.2,1338.3 257.3,1331.0 260.0,1320.0 266.0,1296.0 276.0,1262.0 290.0,1218.0 298.0,1194.0 310.0,1136.0 322.0,1082.0 328.5,1056.0 334.0,1032.0 341.0,996.0 348.0,958.0 356.0,918.0 361.0,892.0 368.0,858.0 374.0,824.0 382.0,778.0 387.0,746.0 392.0,718.0 398.0,688.0 404.0,654.0 410.0,618.0 418.0,578.0 423.5,555.0 430.0,520.0 440.0,474.0 447.0,444.0 455.0,421.0 460.2,400.7 464.3,388.9 466.7,379.5 473.2,364.1 477.3,346.3 486.5,330.0 495.0,314.4 502.1,302.6 511.0,294.0 520.0,289.0 529.0,287.5 538.2,290.7 547.0,297.8 551.0,307.0 556.0,321.0 561.3,335.7 565.4,353.4 567.2,363.0 573.0,378.3 575.0,387.0 582.0,404.0 585.5,430.0 590.0,450.0 596.0,474.0 606.0,520.0 612.0,541.6 618.0,574.0 628.0,630.0 636.0,670.0 641.0,692.0 644.5,709.6 650.0,740.0 657.0,778.0 666.0,824.0 673.0,864.0 677.0,891.0 682.0,916.0 690.0,964.0 697.0,1004.0 703.0,1046.0 707.0,1065.0 710.0,1082.0 720.0,1128.0 730.0,1176.0 739.0,1210.0 746.0,1234.0 754.0,1262.0 762.0,1286.0 771.0,1306.0 784.0,1325.6 792.0,1334.0 800.0,1342.0 806.0,1344.7 850.0,1344.7 857.0,1343.3 868.0,1337.6 876.0,1332.0 882.0,1322.0 890.0,1302.0 897.0,1279.6 906.0,1256.0 918.0,1206.0 928.0,1166.0 936.0,1132.0 946.0,1082.0 954.0,1050.0 960.4,1017.0 968.0,978.0 976.0,938.0 984.0,890.0 991.5,848.0 998.0,812.0 1005.5,778.0 1016.0,714.0 1023.0,677.4 1030.0,644.0 1038.0,594.0 1046.5,544.0 1052.0,517.0 1057.0,496.0 1062.0,474.0 1070.0,444.0 1078.0,410.0 1085.0,388.0 1093.0,362.0 1102.0,336.0 1110.0,312.0 1117.5,290.4 1127.0,272.0 1134.0,258.0 1139.0,249.0 1149.0,232.0 1156.0,224.0 1162.7,217.7 1172.0,212.5 1181.0,210.5 1190.0,212.5 1199.0,217.0 1207.0,220.7 1213.0,232.0 1221.6,252.5 1226.3,260.5 1235.2,276.0 1244.0,294.6 1250.5,315.0 1257.0,331.5 1264.0,349.0 1269.5,363.0 1275.5,382.0 1282.0,404.0 1286.0,422.0 1290.0,436.0 1294.0,450.0 1298.0,470.0 1304.0,492.4 1309.0,513.0 1318.0,546.0 1326.0,578.0 1334.0,604.0 1338.0,620.6 1343.0,646.0 1350.0,680.0 1358.0,714.0 1365.0,738.0 1369.5,757.0 1374.0,778.0 1382.0,816.0 1390.0,854.0 1395.0,878.0 1399.0,897.4 1404.0,918.0 1410.0,950.0 1418.0,984.0 1424.0,1012.0 1430.0,1033.6 1438.0,1064.0 1442.0,1082.0 1452.0,1118.0 1460.0,1142.0 1465.0,1160.0 1472.0,1186.0 1480.0,1218.0 1488.0,1246.0 1495.0,1265.6 1500.0,1282.0 1508.0,1300.0 1516.0,1314.0 1528.0,1332.0 1540.0,1340.0 1560.0,1348.0 1600.0,1348.8 1750.0,1350.3 2127.0,1354.0" fill="none" stroke="#009300" stroke-width="4" stroke-dasharray="17.3 6 5 6.1" stroke-linejoin="round"/>
<polyline points="136.0,1346.2 400.0,1345.8 404.0,1347.0 413.0,1335.0 424.0,1318.0 428.0,1305.0 430.5,1280.0 445.0,1082.0 455.0,928.0 458.0,890.0 466.0,778.0 485.0,488.0 487.6,458.0 489.7,440.0 502.5,328.0 513.0,239.0 515.5,218.0 518.0,211.0 524.0,209.8 545.0,209.6 553.0,210.0 557.0,212.0 558.7,218.0 560.0,229.3 566.9,290.0 571.2,328.0 581.0,412.0 587.0,474.0 611.0,764.0 612.8,798.0 620.5,890.0 628.0,978.0 638.0,1082.0 643.0,1142.0 649.5,1202.0 660.0,1322.0 665.6,1334.0 670.0,1341.0 676.0,1345.8 870.0,1346.0 1064.0,1345.0 1300.0,1345.2 1690.0,1343.0 2123.0,1342.0" fill="none" stroke="#ff0000" stroke-width="4.3" stroke-linejoin="round"/>
<g fill="#0000ff"><rect x="343" y="1348" width="63" height="1"/><rect x="1064" y="1347" width="209" height="1"/></g>
</g>
<g shape-rendering="crispEdges">
<ellipse cx="1719.3" cy="256.8" rx="15.6" ry="15.95" fill="#ff0000"/>
<ellipse cx="1719.3" cy="323.0" rx="15.6" ry="15.95" fill="#009300"/><path d="M1716.8,313.6 A9.7,9.7 0 0 0 1716.8,332.4 Z" fill="#fff"/>
<circle cx="1719.3" cy="388.6" r="14.1" fill="#fff" stroke="#0000ff" stroke-width="3"/><path d="M1704.7,388.2 A14.6,14.6 0 0 0 1733.9,388.2 Z" fill="#0000ff"/>
</g>
<text class="lg" transform="translate(1795 274.7) scale(1 1.02)">1</text>
<text class="lg" transform="translate(1795 340.4) scale(1 1.02)">2</text>
<text class="lg" transform="translate(1795 406.2) scale(1 1.02)">3</text>
<text class="b" transform="translate(113 234) scale(1 1.05)" text-anchor="end">1.0</text>
<text class="b" transform="translate(113 799) scale(1 1.05)" text-anchor="end">0.5</text>
<text class="b" transform="translate(113 1363) scale(1 1.05)" text-anchor="end">0.0</text>
<text class="b" transform="translate(211.3 1454) scale(1 1.05)" text-anchor="middle">1</text>
<text class="b" transform="translate(691 1454) scale(1 1.05)" text-anchor="middle">10</text>
<text class="b" transform="translate(1170 1454) scale(1 1.05)" text-anchor="middle">100</text>
<text class="b" transform="translate(1650.5 1454) scale(1 1.05)" text-anchor="middle">1000</text>
<text class="bi" transform="translate(152 82) scale(1 1.05)">I <tspan font-weight="normal">/</tspan> I</text><text class="sub" transform="translate(246.5 102.8) scale(1 1.05)">max</text>
<text class="bi" transform="translate(1804.5 1474) scale(1 1.05)">R</text><text class="sub" transform="translate(1852.5 1494.8) scale(1 1.05)">h-D</text><text class="bi" transform="translate(1942.3 1474) scale(1 1.05)">, nm</text>
<rect x="196" y="1445.4" width="11.6" height="9.599999999999909" fill="#fff"/><rect x="218.4" y="1445.4" width="10.6" height="9.599999999999909" fill="#fff"/>
<rect x="657" y="1445.4" width="11.6" height="9.599999999999909" fill="#fff"/><rect x="679.0" y="1445.4" width="11.0" height="9.599999999999909" fill="#fff"/>
<rect x="1117" y="1445.4" width="11.6" height="9.599999999999909" fill="#fff"/><rect x="1139.0" y="1445.4" width="11.0" height="9.599999999999909" fill="#fff"/>
<rect x="1578" y="1445.4" width="12.0" height="9.599999999999909" fill="#fff"/><rect x="1600.4" y="1445.4" width="11.6" height="9.599999999999909" fill="#fff"/>
<rect x="22" y="225.4" width="11.6" height="9.599999999999994" fill="#fff"/><rect x="44.4" y="225.4" width="10.6" height="9.599999999999994" fill="#fff"/>
<rect x="1798" y="269.6" width="10.6" height="5.899999999999977" fill="#fff"/><rect x="1814.0" y="269.6" width="10.0" height="5.899999999999977" fill="#fff"/>
</svg></body></html>
